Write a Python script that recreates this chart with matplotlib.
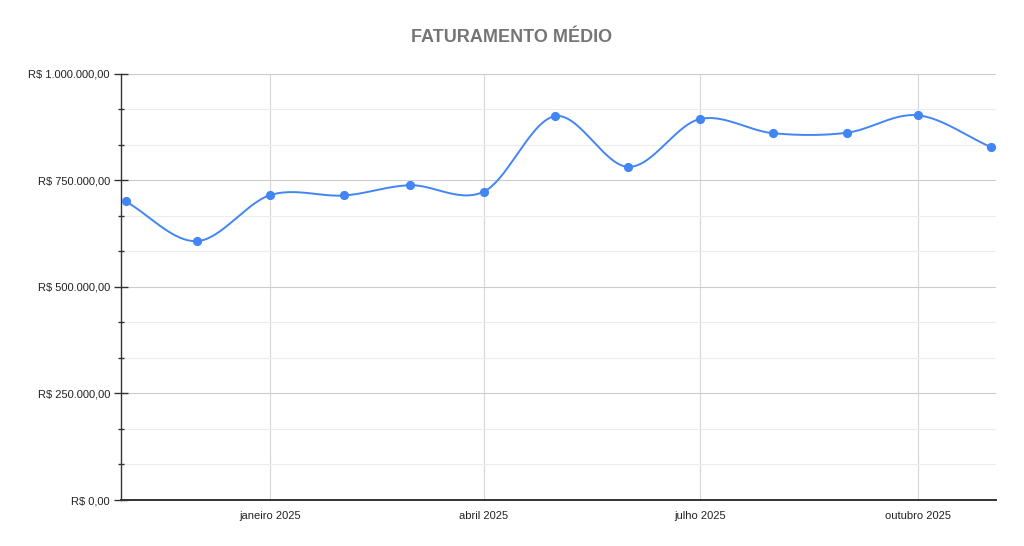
import numpy as np
import matplotlib
matplotlib.use('Agg')
import matplotlib.pyplot as plt
import matplotlib.dates as mdates
from matplotlib.ticker import FuncFormatter, MultipleLocator
from datetime import date, timedelta

# dados: faturamento médio mensal (nov/2024 a nov/2025)
meses = [date(2024, 11, 1), date(2024, 12, 1), date(2025, 1, 1), date(2025, 2, 1),
         date(2025, 3, 1), date(2025, 4, 1), date(2025, 5, 1), date(2025, 6, 1),
         date(2025, 7, 1), date(2025, 8, 1), date(2025, 9, 1), date(2025, 10, 1),
         date(2025, 11, 1)]
faturamento = [700000, 607000, 715000, 714000, 738000, 723000, 900000,
               781000, 893000, 860000, 861000, 902000, 827000]
rotulos_x = ['janeiro 2025', 'abril 2025', 'julho 2025', 'outubro 2025']
datas_rotulos = [date(2025, 1, 1), date(2025, 4, 1), date(2025, 7, 1), date(2025, 10, 1)]


def catmull_rom(x, y, n=30):
    """Curva suave passando pelos pontos (estilo 'suavizar' do Sheets)."""
    x = np.asarray(x, float)
    y = np.asarray(y, float)
    px = np.concatenate([[2 * x[0] - x[1]], x, [2 * x[-1] - x[-2]]])
    py = np.concatenate([[2 * y[0] - y[1]], y, [2 * y[-1] - y[-2]]])
    xs, ys = [], []
    t = np.linspace(0, 1, n)
    for i in range(1, len(px) - 2):
        for p, out in ((px, xs), (py, ys)):
            p0, p1, p2, p3 = p[i - 1], p[i], p[i + 1], p[i + 2]
            out.append(0.5 * (2 * p1 + (-p0 + p2) * t
                              + (2 * p0 - 5 * p1 + 4 * p2 - p3) * t ** 2
                              + (-p0 + 3 * p1 - 3 * p2 + p3) * t ** 3))
    return np.concatenate(xs), np.concatenate(ys)


def formato_real(v, pos=None):
    s = f"{v:,.2f}".replace(',', 'X').replace('.', ',').replace('X', '.')
    return f"R$ {s}"


plt.rcParams['font.family'] = ['Liberation Sans', 'DejaVu Sans']

fig = plt.figure(figsize=(10.24, 5.46), dpi=100)
ax = fig.add_axes([121 / 1024, 46 / 546, 875 / 1024, 426.5 / 546])

xnum = mdates.date2num(meses)
cx, cy = catmull_rom(xnum, faturamento)
cor = '#4285F4'
ax.plot(cx, cy, color=cor, linewidth=1.4, zorder=3)
ax.plot(xnum, faturamento, 'o', color=cor, markersize=5.6, zorder=4)

ax.set_ylim(0, 1000000)
ax.set_xlim(mdates.date2num(date(2024, 11, 1) - timedelta(days=2.5)),
            mdates.date2num(date(2025, 11, 1) + timedelta(days=2.5)))

ax.yaxis.set_major_locator(MultipleLocator(250000))
ax.yaxis.set_minor_locator(MultipleLocator(250000 / 3))
ax.yaxis.set_major_formatter(FuncFormatter(formato_real))
ax.set_xticks(mdates.date2num(datas_rotulos))
ax.set_xticklabels(rotulos_x)

ax.grid(axis='y', which='major', color='#cccccc', linewidth=0.8)
ax.grid(axis='y', which='minor', color='#ececec', linewidth=0.8)
ax.grid(axis='x', which='major', color='#d6d6d6', linewidth=0.8)
ax.set_axisbelow(True)

for s in ('top', 'right'):
    ax.spines[s].set_visible(False)
ax.spines['left'].set_color('#333333')
ax.spines['left'].set_linewidth(1.0)
ax.spines['bottom'].set_color('#333333')
ax.spines['bottom'].set_linewidth(1.4)

ax.tick_params(axis='y', which='major', direction='inout', length=10, width=1,
               color='#333333', labelsize=8, labelcolor='#222222', pad=3)
ax.tick_params(axis='y', which='minor', direction='inout', length=5, width=1,
               color='#333333')
ax.tick_params(axis='x', which='major', length=0, labelsize=8,
               labelcolor='#222222', pad=8)

fig.text(0.5, 1 - 38 / 546, 'FATURAMENTO MÉDIO', ha='center', va='center',
         fontsize=13, fontweight='bold', color='#757575')

fig.savefig('out.png', dpi=100, facecolor='white')
